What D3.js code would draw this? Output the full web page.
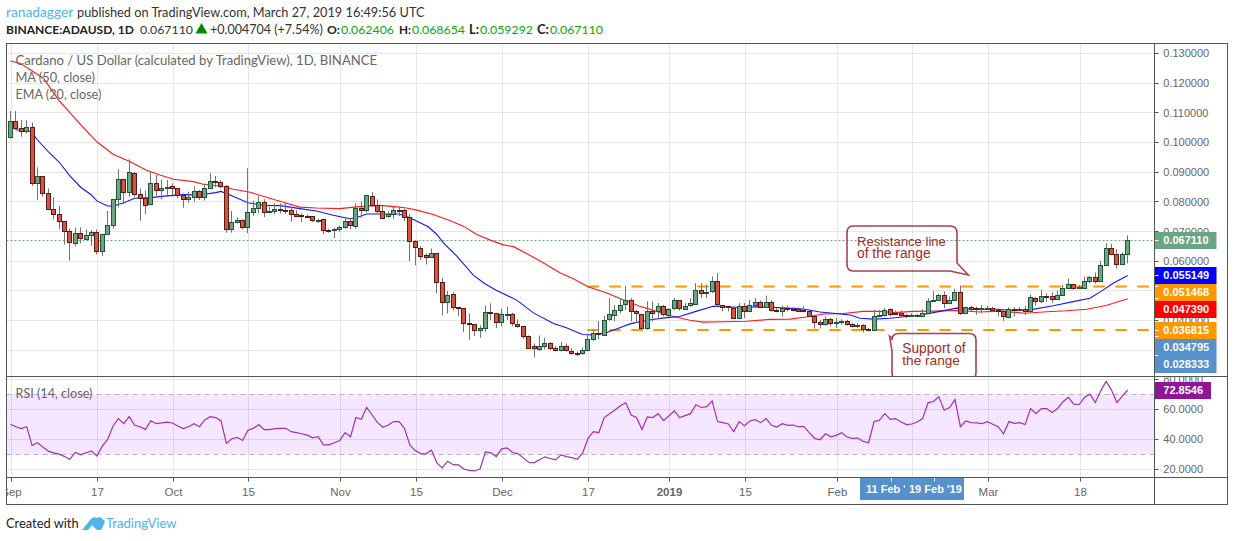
<!DOCTYPE html>
<html><head><meta charset="utf-8">
<script src="https://cdn.jsdelivr.net/npm/d3@7"></script>
<style>html,body{margin:0;padding:0;background:#fff;overflow:hidden}svg{display:block}</style>
</head><body><svg id="c" width="1234" height="541"></svg>
<script>
// Prices are in thousandths of a US dollar. Day index 0 = 1 Sep 2018, one entry per day.
const opens=[101.7,107.0,104.7,103.7,105.1,86.2,88.6,82.8,77.4,75.8,73.4,70.0,66.2,69.4,67.2,68.7,69.7,63.2,69.0,72.1,80.8,87.5,83.2,89.6,82.5,81.2,79.0,86.2,83.7,84.5,85.2,84.5,82.0,80.8,81.5,83.5,81.5,84.5,86.9,86.5,85.2,70.7,73.1,73.8,71.4,76.4,77.8,79.8,76.4,76.8,77.3,77.2,77.0,75.8,75.3,75.1,75.0,73.5,73.9,70.4,70.4,70.6,71.3,73.3,71.8,77.7,76.9,81.7,78.9,76.9,75.0,75.6,77.0,77.0,74.6,66.5,64.4,61.8,61.2,62.5,52.7,45.9,48.7,44.3,44.0,39.0,38.6,36.6,37.3,42.6,42.3,39.3,41.9,42.0,38.6,37.9,34.6,31.2,30.2,31.2,32.2,30.5,29.8,31.2,29.5,28.9,28.8,29.8,33.5,35.6,35.0,40.2,41.9,43.5,45.2,46.6,42.9,42.2,37.4,43.2,42.9,44.6,41.9,43.9,46.6,43.9,44.9,45.6,50.3,49.3,49.6,53.0,45.2,44.6,44.2,40.7,44.9,43.2,45.2,46.2,44.6,46.2,43.5,43.2,44.2,43.9,43.8,43.3,43.2,41.5,39.5,38.8,40.5,39.2,39.6,39.8,38.8,38.2,38.5,37.1,36.8,41.4,41.7,43.8,42.5,42.5,41.7,41.4,41.4,41.6,42.4,46.5,46.9,48.6,45.9,46.9,49.6,42.5,44.4,44.1,43.8,44.0,44.2,43.5,43.0,41.2,43.8,43.6,43.8,43.2,47.5,46.5,48.1,48.1,47.2,48.6,50.9,52.3,50.8,50.9,53.3,54.6,53.2,58.7,64.4,62.4,59.0,62.406];
const highs=[110.6,110.6,107.5,107.5,106.7,91.6,88.6,84.5,81.5,78.6,73.4,71.0,71.4,71.4,70.7,70.5,70.7,69.0,76.9,80.8,90.9,87.5,94.3,90.1,84.5,83.7,89.9,89.0,87.5,87.3,86.2,84.5,82.8,83.4,85.2,84.0,86.2,89.6,88.7,87.3,85.6,76.9,74.8,74.1,91.3,80.4,82.0,80.9,78.3,79.5,79.5,79.5,78.3,77.2,76.1,75.8,75.2,74.3,74.3,70.9,71.3,72.0,74.6,74.6,79.5,80.2,82.0,83.3,80.8,78.6,76.9,78.6,78.3,77.7,75.8,66.5,65.1,62.6,64.3,62.5,54.4,50.0,49.6,44.3,44.0,42.4,38.6,38.4,45.1,45.8,42.6,44.0,44.7,42.6,40.4,38.1,35.0,32.3,35.0,34.2,32.8,31.4,32.8,32.3,30.7,29.6,31.0,35.6,37.0,39.8,41.6,47.6,45.3,47.6,51.7,47.6,43.7,42.2,46.5,46.5,45.9,45.3,44.2,47.6,46.8,45.9,47.6,52.6,52.6,52.1,54.9,56.0,45.2,45.0,44.8,45.9,45.9,47.0,47.6,46.8,48.4,46.8,44.2,45.1,45.0,44.5,44.4,44.8,43.7,42.0,40.3,41.4,40.9,40.9,40.5,40.3,39.2,39.2,38.8,37.5,43.7,43.6,44.2,44.1,43.4,43.4,42.2,42.5,42.3,43.8,47.5,49.9,49.0,49.8,48.1,50.7,51.8,44.7,45.0,44.7,45.3,45.0,44.7,44.2,43.1,44.5,44.5,44.5,45.0,48.7,47.9,50.4,49.2,49.5,50.1,52.0,54.1,52.3,52.0,54.8,55.1,56.2,60.1,66.1,65.8,64.0,63.0,68.654];
const lows=[101.2,104.2,101.9,103.0,85.3,80.6,81.7,77.4,74.1,70.7,65.6,60.2,64.9,66.0,67.2,65.2,62.3,61.8,68.8,70.9,78.1,79.2,81.7,81.7,73.6,75.9,78.8,81.7,80.8,81.7,81.7,81.2,78.0,79.7,80.0,80.6,80.4,84.5,84.9,84.5,69.6,69.6,72.7,70.7,69.4,75.3,76.1,74.8,76.1,75.9,76.1,75.9,73.3,74.8,73.2,74.6,73.2,72.9,69.1,69.6,67.8,69.8,71.0,70.7,71.0,74.6,76.5,78.6,76.0,74.3,74.6,74.3,75.2,73.5,60.0,58.6,60.4,58.9,61.2,49.2,41.7,42.4,43.5,41.5,36.1,33.4,34.8,34.2,36.1,40.2,37.5,38.1,40.2,38.1,37.6,33.9,30.5,27.6,29.8,30.3,30.1,29.6,29.6,29.6,28.5,28.0,28.5,29.6,33.1,33.7,34.9,40.0,39.7,42.5,43.6,39.7,39.2,37.2,36.9,39.7,40.5,41.4,41.2,43.7,43.3,43.7,44.6,45.3,47.6,47.6,49.3,44.8,43.1,43.1,40.5,40.5,40.8,43.0,44.2,44.2,44.4,43.0,42.8,41.4,43.1,43.1,42.9,42.8,41.2,37.3,37.3,38.3,38.1,37.5,38.6,38.3,37.7,37.5,36.0,36.6,36.6,41.2,41.4,41.4,41.9,41.2,40.8,41.2,41.2,41.4,42.2,46.3,46.7,44.2,45.6,46.7,41.9,42.3,43.1,41.9,42.7,43.6,43.1,41.4,39.9,40.8,41.4,43.1,41.9,42.7,45.0,45.9,46.3,45.9,47.0,48.3,50.6,50.4,50.6,50.6,52.6,52.4,52.9,58.4,62.0,57.5,58.8,59.292];
const closes=[107.0,104.7,103.7,105.1,86.2,88.6,82.8,77.4,75.8,73.4,70.0,66.2,69.4,67.6,68.7,69.7,63.2,69.0,72.1,80.8,87.5,83.1,89.9,82.4,81.2,79.0,86.2,83.7,84.5,84.9,84.5,82.0,80.8,81.5,83.5,81.5,84.5,86.9,86.5,85.2,70.7,73.1,73.8,71.4,76.4,77.8,79.8,76.4,76.7,77.4,77.1,77.0,75.8,75.1,75.0,74.9,73.5,73.7,70.1,70.1,70.6,71.3,73.3,71.9,77.7,76.9,82.0,78.8,76.9,74.6,75.8,77.0,76.8,74.6,66.5,64.4,61.7,61.2,62.5,52.7,45.9,48.4,44.3,43.9,38.9,38.6,36.5,37.3,42.6,42.2,39.3,42.0,42.1,38.9,37.9,34.6,30.7,30.5,31.2,32.2,30.5,29.8,31.2,29.8,28.8,28.7,29.8,33.5,35.6,35.2,40.2,41.9,43.5,45.2,46.6,42.9,42.2,37.5,43.2,42.5,44.6,41.9,43.9,46.6,43.9,44.9,45.6,50.3,49.3,49.6,53.0,45.2,44.6,44.2,40.7,44.9,43.2,45.2,46.2,44.6,46.2,43.5,43.2,44.2,43.7,43.5,43.2,43.1,41.5,39.5,38.8,40.5,39.2,39.5,39.8,38.8,38.2,38.5,37.1,36.8,41.5,41.8,43.4,42.0,42.3,41.7,41.2,41.6,41.7,42.5,46.5,46.9,48.6,45.9,46.9,49.6,42.4,44.4,43.8,43.8,44.1,44.2,43.5,43.0,41.2,43.8,43.5,43.8,43.2,47.9,46.5,48.2,47.9,47.2,48.6,50.9,52.3,50.9,51.0,53.3,54.6,53.3,58.7,64.4,62.4,59.0,62.4,67.11];
const rsiValues=[50.0,48.4,47.1,48.4,35.9,37.7,34.8,32.1,31.0,30.1,28.5,26.7,31.2,29.6,31.0,32.3,28.9,35.4,39.9,48.9,53.8,50.4,55.1,49.3,48.4,46.6,52.4,50.4,50.9,51.5,50.9,48.9,47.1,48.4,50.4,48.4,52.9,55.1,54.5,52.4,37.2,40.4,41.3,39.2,46.0,47.3,49.8,46.4,46.4,47.1,47.3,47.3,45.1,44.4,43.7,42.8,41.0,41.7,36.3,36.3,37.7,39.2,44.4,41.7,54.5,53.3,61.2,56.2,51.1,48.0,49.5,51.8,51.8,47.3,36.1,32.5,30.5,
30.3,32.8,24.3,20.9,25.4,23.1,22.9,20.2,19.3,18.9,20.2,31.6,31.0,28.5,33.6,34.3,31.2,30.5,27.6,24.7,24.3,26.3,28.3,27.2,26.3,29.6,28.5,27.8,26.7,30.7,40.6,45.1,44.4,54.5,57.1,59.6,62.3,64.3,56.2,54.5,46.6,54.9,54.5,57.1,52.4,55.6,58.9,54.5,55.8,57.1,63.0,61.2,61.8,65.6,51.8,51.1,50.2,45.1,51.8,49.1,52.2,53.1,51.1,53.8,49.3,48.2,50.4,49.3,49.5,48.4,48.4,44.4,40.6,39.7,43.7,41.7,42.6,
44.4,41.5,40.6,40.8,38.6,37.7,51.8,52.7,57.1,53.3,53.8,51.5,49.8,50.2,51.5,53.8,64.3,65.2,68.3,59.4,61.2,66.5,48.4,52.2,51.1,50.9,50.4,51.8,50.0,48.4,43.7,51.8,50.6,51.1,49.8,60.5,57.1,60.5,60.5,57.8,60.5,65.0,67.9,63.4,63.2,67.9,70.1,64.5,72.3,78.6,72.8,64.5,68.8,72.8546];
const maDays=[0,1.8,3.3,6.1,8.9,11,13.5,16,19,22.1,25.2,27.7,30.2,33.9,35.7,38.8,41.3,44.4,48,51.2,53.6,56.7,61,64.1,68.5,71.6,73.4,75.3,78.3,81.4,83.9,86.4,88.9,91.3,93.2,95.6,98.7,101.8,104.3,107,110.5,113.5,116.6,119.7,122.8,125.9,128.4,132,136.4,140.7,144.4,147.5,150.6,154.3,158,161,163.6,167.3,171,175.3,179.6,183.3,188,192,195.7,199.4,203,207];
const maValues=[127.4,126.6,124.9,121.6,114.3,110,105,100.2,96,93.6,90.6,89,87.6,86.8,85.9,85.3,84.2,83.2,81.2,79.5,78.2,77.9,77.7,78.3,78.8,78.3,77.9,77.2,75.7,73.7,71.8,69,67.1,65.5,64.9,62.6,59.5,56.1,54.1,51.4,49.3,47,44.8,43.1,41.4,40.1,39.5,39.6,39.8,40.4,40.5,41.2,42.2,42.4,43.1,43.1,42.7,43.1,43.2,43.4,42.9,43.2,42.5,43,43.3,43.8,45.1,47.39];
const emaDays=[1,3,4,5,7,9,11,13,15,16,18,19,21,23,26,29,32,35,38,39,41,44,47,50,53.6,56.7,59.8,62.9,64,66,68.5,72,74,77.4,79,80.2,82.7,85.8,87.9,90,93.8,96.9,100.6,103,106,108,110.5,113,114.8,117.9,121.6,124,127,130.2,131.5,135,138.9,143.8,146.9,150,153.7,155.6,157.4,159.9,163,166,168.5,172.2,175.3,178.4,182.7,185.8,188.9,193.2,196.9,200,202.2,204.3,207];
const emaValues=[104.2,104.2,103.3,100.8,96.9,93.4,88.7,84.9,82.3,80.3,78.6,78.6,79.7,81.2,81.4,82,82.4,82.3,83.1,83.5,82,79.7,78.8,78.7,77.7,76.9,75.5,74.3,74.6,75.9,75.9,75.9,74.6,71.6,69,66.2,61.7,55.2,52.4,50.2,46.9,42.6,39,37.6,35.3,35.2,36,37.7,38.9,40.1,41,41.4,43.1,44.8,44.8,44.4,44.7,44.2,43.9,42.9,42.2,41.9,40.8,40.5,40.8,41.4,41.8,43.1,44.2,43.8,43.8,43.4,43.6,45,46.4,47.5,50,52.6,55.149];
const priceTicks=[130,120,110,100,90,80,70,60,50,40];
const rsiTicks=[80,60,40,20];
const timeTickDays=[0,16,30,44,61,75,91,107,122,136,153,167,181,198];
const timeTickLabels=['Sep','17','Oct','15','Nov','15','Dec','17','2019','15','Feb','','Mar','18'];
const priceFlagValues=[67.11,55.149,51.468,47.39,36.815,34.795,28.333];
const priceFlagColors=['#6ba583','#0000ff','#ff9800','#ff0000','#ff9800','#5691cc','#5691cc'];
const rangeLevels=[51.468,36.815];
const rangeStartDay=107;
const lastPrice=67.11, lastRsi=72.8546;
const selectedDays=[163,171], selectedLabels=["11 Feb '","19 Feb '19"];

const F='"Liberation Sans",Arial,sans-serif', H='Lato,sans-serif';
const L=6.5,R=1227.5,AX=1154.5,T=43.5,PB=376.5,RB=477.5,B=504.5;
const svg=d3.select('#c');
const x=d3.scaleLinear().domain([0,207]).range([10.5,1127.7]);
const y=d3.scaleLinear().domain([30,130]).range([350.3,53.3]);
const r=d3.scaleLinear().domain([20,80]).range([469.3,379.3]);
const defs=svg.append('defs');
defs.append('clipPath').attr('id','pp').append('rect').attr('x',L).attr('y',T).attr('width',AX-L).attr('height',PB-T);
defs.append('clipPath').attr('id','rp').append('rect').attr('x',L).attr('y',PB).attr('width',AX-L).attr('height',RB-PB);
defs.append('clipPath').attr('id','tp').append('rect').attr('x',L).attr('y',RB).attr('width',AX-L).attr('height',B-RB);
defs.append('clipPath').attr('id','ap').append('rect').attr('x',AX).attr('y',T).attr('width',R-AX).attr('height',PB-T);
defs.append('clipPath').attr('id','ar').append('rect').attr('x',AX).attr('y',PB).attr('width',R-AX).attr('height',RB-PB);
const crisp=v=>Math.floor(v)+.5;

function txt(g,xx,yy,s,o={}){
  const t=g.append('text').attr('x',xx).attr('y',yy).text(s)
    .attr('font-family',o.f||H).attr('font-size',o.s||14).attr('font-weight',o.w||400).attr('fill',o.c||'#333');
  if(o.fit){ const len=t.node().getComputedTextLength(); t.attr('font-size',(o.s||14)*o.fit/len); }
  return t;
}
// header
const hd=svg.append('g');
txt(hd,6,17,'ranadagger',{c:'#4db6ea',fit:67.3});
txt(hd,77,17,'published on TradingView.com, March 27, 2019 16:49:56 UTC',{c:'#333',fit:348});
txt(hd,6,33.5,'BINANCE:ADAUSD, 1D',{w:700,c:'#222',fit:128});
txt(hd,140,33.5,'0.067110',{fit:53});
hd.append('path').attr('d',d3.symbol(d3.symbolTriangle,62)()).attr('transform','translate(201.5,30)').attr('fill','#008a00');
txt(hd,210,33.5,'+0.004704 (+7.54%)',{fit:113});
[['O:',327,13,'0.062406',341],['H:',399,12,'0.068654',412],['L:',469,10,'0.059292',480],['C:',537,12,'0.067110',550]].forEach(d=>{
  txt(hd,d[1],33.5,d[0],{w:700,c:'#222',fit:d[2]});
  txt(hd,d[4],33.5,d[3],{c:'#09a60f',fit:53});
});

// grid
const grid=svg.append('g').attr('stroke','#e6e6e6').attr('stroke-width',1);
grid.selectAll('.gx').data(timeTickDays).enter().append('line').attr('x1',d=>crisp(x(d)+1)).attr('x2',d=>crisp(x(d)+1)).attr('y1',T).attr('y2',RB);
grid.selectAll('.gy').data(priceTicks.concat(30)).enter().append('line').attr('x1',L).attr('x2',AX).attr('y1',d=>crisp(y(d))).attr('y2',d=>crisp(y(d)));

// RSI band and grid
const rg=svg.append('g').attr('stroke','#e6e6e6');
rg.selectAll('line').data(rsiTicks).enter().append('line').attr('x1',L).attr('x2',AX).attr('y1',d=>crisp(r(d))).attr('y2',d=>crisp(r(d)));
svg.append('rect').attr('x',L).attr('width',AX-L).attr('y',r(70)).attr('height',r(30)-r(70)).attr('fill','#9915ff').attr('fill-opacity',.1);
svg.append('g').attr('stroke','#bfaec8').attr('stroke-dasharray','5 4').selectAll('line').data([70,30]).enter().append('line')
  .attr('x1',L).attr('x2',AX).attr('y1',d=>crisp(r(d))).attr('y2',d=>crisp(r(d)));

// price pane
const pp=svg.append('g').attr('clip-path','url(#pp)');
pp.append('line').attr('x1',L).attr('x2',AX).attr('y1',crisp(y(lastPrice))).attr('y2',crisp(y(lastPrice))).attr('stroke','#6ba583').attr('stroke-dasharray','2 2');
pp.selectAll('.rng').data(rangeLevels).enter().append('line').attr('x1',x(rangeStartDay)-.7).attr('x2',AX)
  .attr('y1',d=>y(d)).attr('y2',d=>y(d)).attr('stroke','#ff9800').attr('stroke-width',2).attr('stroke-dasharray','11.5 10.5');
const line=d3.line().x(d=>x(d[0])).y(d=>y(d[1]));
pp.append('path').attr('d',line(d3.zip(maDays,maValues))).attr('fill','none').attr('stroke','#ff1a1a').attr('stroke-width',1.1);
pp.append('path').attr('d',line(d3.zip(emaDays,emaValues))).attr('fill','none').attr('stroke','#1414ff').attr('stroke-width',1.1);
const days=d3.range(opens.length);
const cg=pp.selectAll('.candle').data(days).enter().append('g');
cg.append('line').attr('x1',i=>crisp(x(i))).attr('x2',i=>crisp(x(i))).attr('y1',i=>y(highs[i])).attr('y2',i=>y(lows[i])).attr('stroke','#737375');
cg.append('rect').attr('x',i=>crisp(x(i))-2).attr('width',4)
  .attr('y',i=>crisp(y(Math.max(opens[i],closes[i])))).attr('height',i=>Math.max(1,Math.round(Math.abs(y(opens[i])-y(closes[i])))))
  .attr('fill',i=>closes[i]>=opens[i]?'#6ba583':'#d75442')
  .attr('stroke',i=>closes[i]>=opens[i]?'#225437':'#5b1a13');

// callouts
const callStroke='#a8424c', callText='#a52a2a';
pp.append('path').attr('d','M853,226H950Q957,226 957,233V263L968.3,275L950,271H853Q847,271 847,264V233Q847,226 853,226Z')
  .attr('fill','none').attr('stroke',callStroke).attr('stroke-width',1.6);
txt(pp,857,246,'Resistance line',{f:F,c:callText,fit:89});
txt(pp,857,257.8,'of the range',{f:F,c:callText,fit:73.7});
pp.append('path').attr('d','M889.5,336L892,338V340Q892,333.5 899,333.5H969Q976,333.5 976,340V372Q976,380 969,380H899Q892,380 892,372V351Z')
  .attr('fill','none').attr('stroke',callStroke).attr('stroke-width',1.6);
txt(pp,902.3,353,'Support of',{f:F,c:callText,fit:63.4});
txt(pp,902.3,364.7,'the range',{f:F,c:callText,fit:57.7});

// legends
txt(svg,15.5,65,'Cardano / US Dollar (calculated by TradingView), 1D, BINANCE',{c:'#666',fit:362});
txt(svg,15.5,81.7,'MA (50, close)',{c:'#666',fit:79.5});
txt(svg,15.5,99,'EMA (20, close)',{c:'#666',fit:86});

// RSI
const rp=svg.append('g').attr('clip-path','url(#rp)');
rp.append('path').attr('d',d3.line().x((d,i)=>x(i)).y(d=>r(d))(rsiValues)).attr('fill','none').attr('stroke','#a32fb6').attr('stroke-width',1.2);
txt(svg,15.5,398,'RSI (14, close)',{c:'#666',fit:77});

// right axis
const ap=svg.append('g').attr('clip-path','url(#ap)');
ap.selectAll('.pt').data(priceTicks).enter().append('g').each(function(d){
  const g=d3.select(this);
  g.append('line').attr('x1',AX).attr('x2',AX+4).attr('y1',crisp(y(d))).attr('y2',crisp(y(d))).attr('stroke','#555');
  txt(g,1163.3,y(d)+4,(d/1000).toFixed(6),{f:F,s:11,c:'#666'});
});
const arp=svg.append('g').attr('clip-path','url(#ar)');
arp.selectAll('.rt').data(rsiTicks).enter().append('g').each(function(d){
  const g=d3.select(this);
  g.append('line').attr('x1',AX).attr('x2',AX+4).attr('y1',crisp(r(d))).attr('y2',crisp(r(d))).attr('stroke','#555');
  txt(g,1163.3,r(d)+4,d.toFixed(4),{f:F,s:11,c:'#666'});
});
// flags
const flagTops=[232,267,284,301,322,339,356];
ap.selectAll('.fl').data(priceFlagValues).enter().append('g').each(function(d,i){
  const g=d3.select(this), top=flagTops[i];
  g.append('rect').attr('x',AX).attr('y',top).attr('width',62).attr('height',17).attr('fill',priceFlagColors[i]);
  g.append('line').attr('x1',AX).attr('x2',AX+4).attr('y1',crisp(y(d))).attr('y2',crisp(y(d))).attr('stroke','#fff');
  txt(g,1163.3,top+12.4,(d/1000).toFixed(6),{f:F,s:11,c:'#fff',w:700});
});
const rf=arp.append('g');
rf.append('rect').attr('x',AX).attr('y',crisp(r(lastRsi))-8.5).attr('width',56.5).attr('height',17).attr('fill','#8e1599');
txt(rf,1163.3,r(lastRsi)+4,lastRsi.toFixed(4),{f:F,s:11,c:'#fff',w:700});

// time axis
const tp=svg.append('g').attr('clip-path','url(#tp)');
tp.selectAll('.tt').data(timeTickDays).enter().append('g').each(function(d,i){
  const g=d3.select(this), xx=crisp(x(d)+1), big=timeTickLabels[i]==='2019';
  g.append('line').attr('x1',xx).attr('x2',xx).attr('y1',RB).attr('y2',RB+4).attr('stroke','#555');
  if(timeTickLabels[i]) txt(g,xx,495.5,timeTickLabels[i],{f:F,s:11.5,c:'#666',w:big?700:400}).attr('text-anchor','middle');
});
const selLefts=[860,905], selRights=[910,964], selTextX=[866,909], selTextS=[11,11];
selectedDays.forEach((d,i)=>{
  const g=tp.append('g');
  g.append('rect').attr('x',selLefts[i]).attr('y',RB).attr('width',selRights[i]-selLefts[i]).attr('height',22.5).attr('fill','#5691cc');
  g.append('line').attr('x1',crisp(x(d)+1)).attr('x2',crisp(x(d)+1)).attr('y1',RB).attr('y2',RB+4).attr('stroke','#fff');
  txt(g,selTextX[i],493,selectedLabels[i],{f:F,c:'#fff',w:700,s:selTextS[i]});
});

// frame
const fr=svg.append('g').attr('stroke','#555').attr('fill','none');
fr.append('rect').attr('x',L).attr('y',T).attr('width',R-L).attr('height',B-T);
[[AX,T,AX,B],[L,PB,R,PB],[L,RB,R,RB]].forEach(a=>fr.append('line').attr('x1',a[0]).attr('y1',a[1]).attr('x2',a[2]).attr('y2',a[3]));

// footer
txt(svg,6,527.7,'Created with',{c:'#222',fit:72.7});
svg.append('path').attr('d','M82,530L90,520Q93,516 97,518L105,522L101,530H97L92,525L88,530Z M93,519L100,517L105,521L99,525Z').attr('fill','#4db6ea');
txt(svg,106,527.7,'TradingView',{c:'#4db6ea',fit:70.7});
</script></body></html>
